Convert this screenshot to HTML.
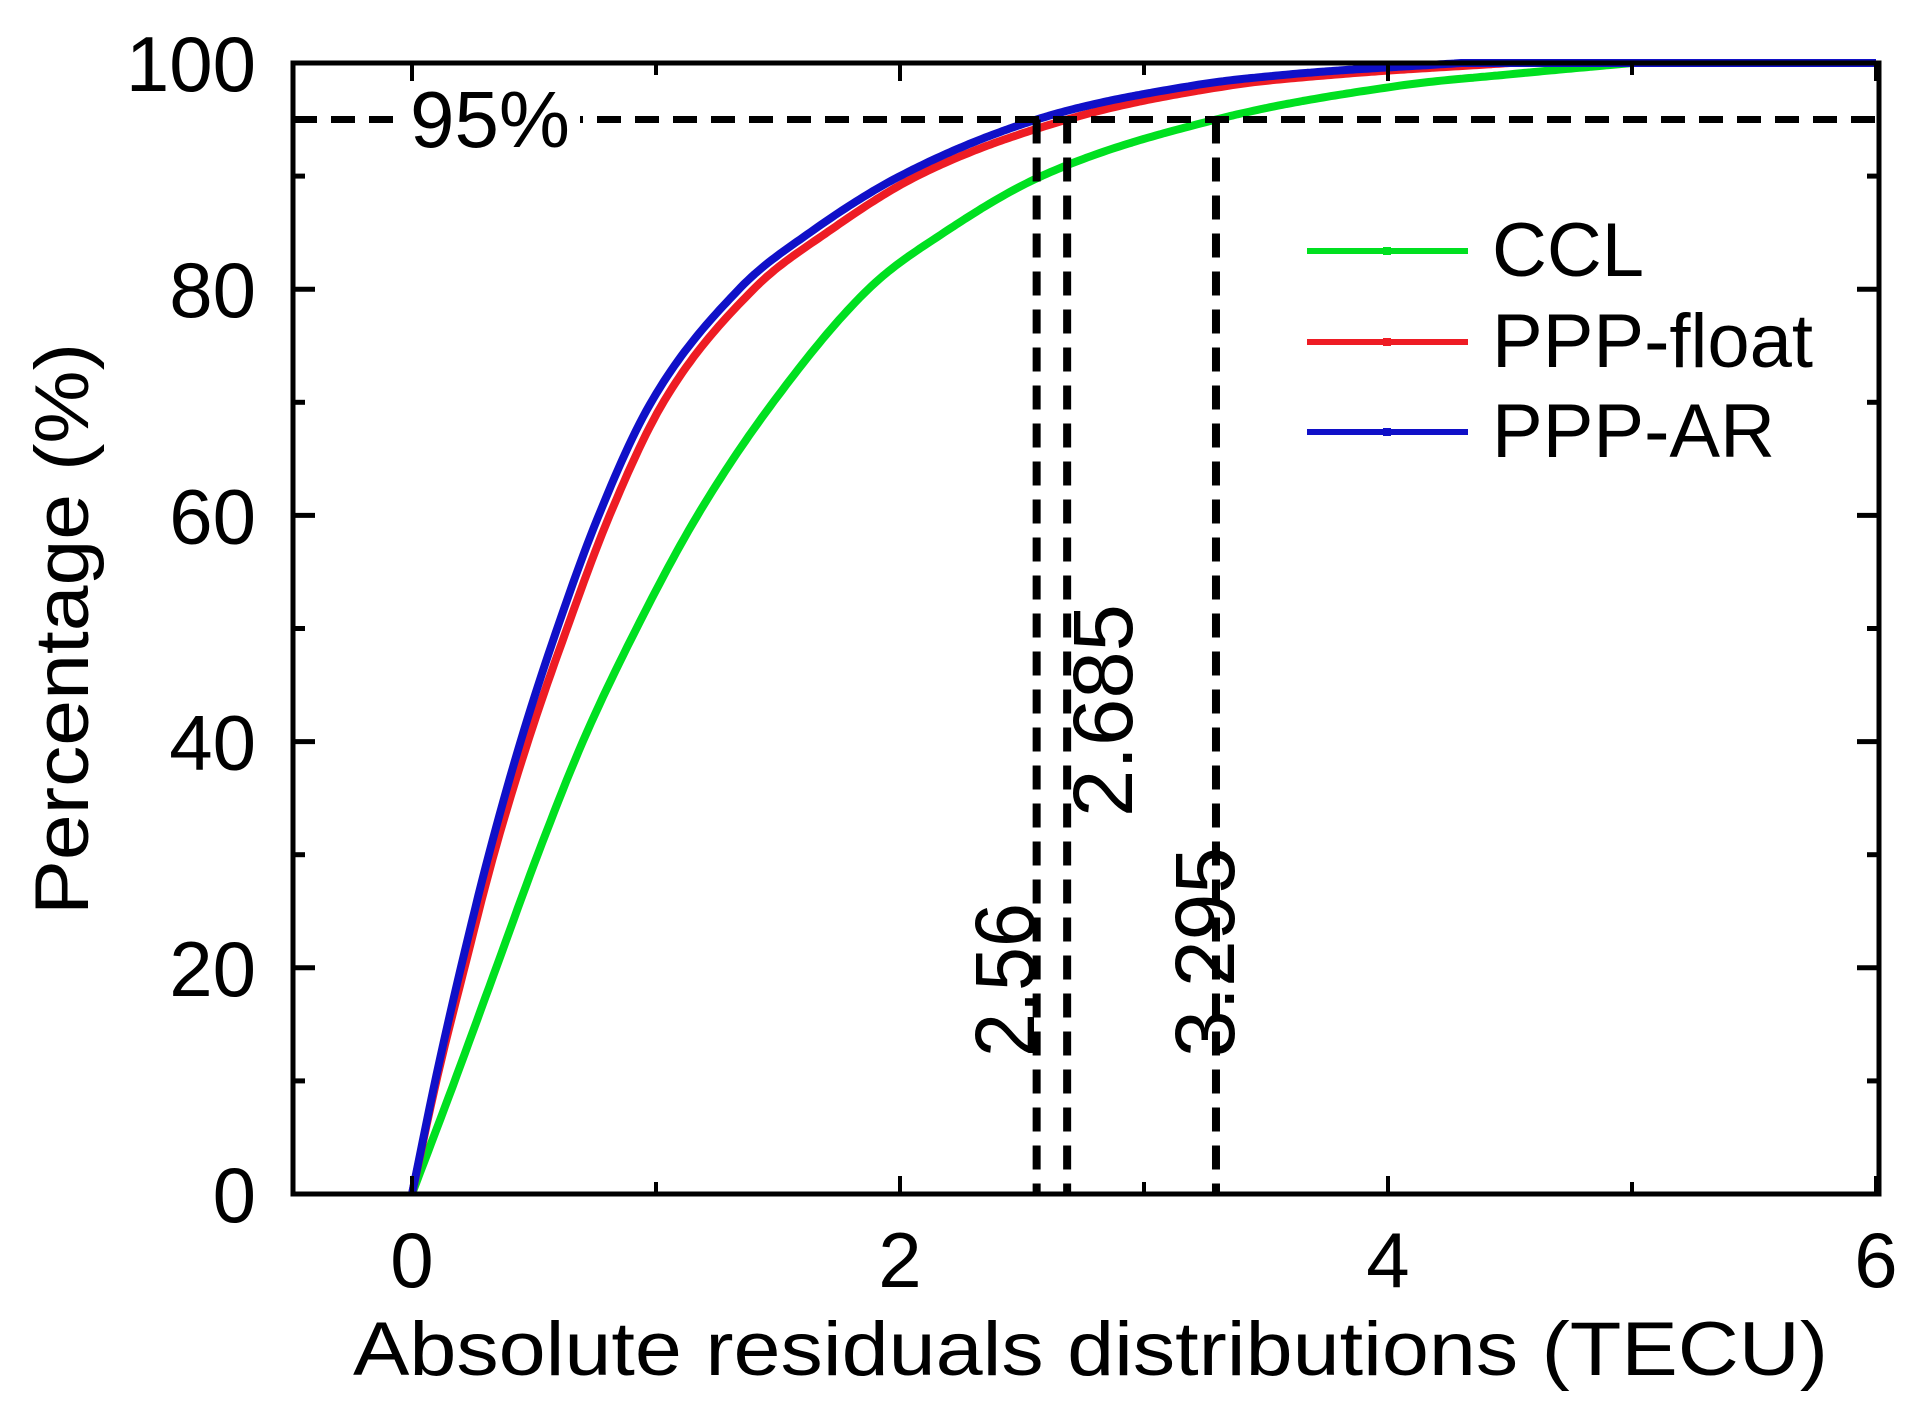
<!DOCTYPE html>
<html><head><meta charset="utf-8"><style>
html,body{margin:0;padding:0;background:#fff;}
svg{display:block;font-family:"Liberation Sans",Arial,sans-serif;}
</style></head><body>
<svg id="chart" width="1920" height="1410" viewBox="0 0 1920 1410" xmlns="http://www.w3.org/2000/svg">
<rect width="1920" height="1410" fill="#fff"/>
<g id="marks"></g>
<g id="frame"></g>
</svg>
<script>
const percentiles = [0,10,20,30,40,50,60,70,80,85,90,95,98,99,100];
const cclX   = [0,0.175,0.345,0.515,0.70,0.92,1.17,1.48,1.87,2.18,2.58,3.295,4.05,4.5,5.0];
const floatX = [0,0.10,0.215,0.335,0.475,0.635,0.81,1.03,1.40,1.70,2.07,2.685,3.35,3.8,4.5];
const arX    = [0,0.095,0.20,0.315,0.445,0.595,0.765,0.98,1.34,1.63,2.0,2.56,3.2,3.6,4.3];
const seriesNames = ["CCL","PPP-float","PPP-AR"];
const xTicks = [0,2,4,6];
const yTicks = [0,20,40,60,80,100];
const thresholdPct = 95;
const thresholds = [2.56,2.685,3.295];
const thresholdLabels = ["2.56","2.685","3.295"];

const NS="http://www.w3.org/2000/svg";
const X0=412, XS=244, Y0=1194, YS=11.31;
const L=293, R=1879, T=63, B=1194;
function sx(v){return X0+XS*v;}
function sy(p){return Y0-YS*p;}
function mk(tag,attrs,parent){const e=document.createElementNS(NS,tag);for(const k in attrs)e.setAttribute(k,attrs[k]);parent.appendChild(e);return e;}
const marks=document.getElementById('marks'), frame=document.getElementById('frame');

function monotone(xs,ys){
  const n=xs.length, d=[], m=new Array(n);
  for(let i=0;i<n-1;i++) d.push((ys[i+1]-ys[i])/(xs[i+1]-xs[i]));
  m[0]=d[0]; m[n-1]=d[n-2];
  for(let i=1;i<n-1;i++){ m[i]=(d[i-1]*d[i]<=0)?0:(d[i-1]+d[i])/2; }
  for(let i=0;i<n-1;i++){
    if(d[i]===0){m[i]=0;m[i+1]=0;continue;}
    const a=m[i]/d[i], b=m[i+1]/d[i], s=a*a+b*b;
    if(s>9){const t=3/Math.sqrt(s);m[i]=t*a*d[i];m[i+1]=t*b*d[i];}
  }
  return function(x){
    let i=0; while(i<n-2 && x>xs[i+1]) i++;
    const h=xs[i+1]-xs[i], t=(x-xs[i])/h, t2=t*t, t3=t2*t;
    return (2*t3-3*t2+1)*ys[i]+(t3-2*t2+t)*h*m[i]+(-2*t3+3*t2)*ys[i+1]+(t3-t2)*h*m[i+1];
  };
}
const colors=["#00e020","#ee1c24","#1010c8"];
const allX=[cclX,floatX,arX];
allX.forEach((xs,si)=>{
  const f=monotone(xs,percentiles);
  const xmax=xs[xs.length-1];
  let d="";
  for(let k=0;k<=300;k++){
    const v=xmax*k/300;
    d+=(k?"L":"M")+sx(v).toFixed(1)+","+sy(Math.min(100,f(v))).toFixed(1);
  }
  d+="L"+sx(6).toFixed(1)+","+sy(100).toFixed(1);
  const p=mk('path',{d:d,fill:'none',stroke:colors[si],'stroke-width':8,'stroke-linejoin':'round'},marks);
  
  
});

const h=mk('line',{x1:L,x2:R,y1:sy(thresholdPct),y2:sy(thresholdPct),stroke:'#000','stroke-width':7,'stroke-dasharray':'24,14'},marks);


const bg=mk('rect',{x:404,y:88,width:176,height:62,fill:'#fff'},marks);


const lbl95=mk('text',{x:410,y:147,'font-size':80,textLength:160,lengthAdjust:'spacingAndGlyphs'},marks);


lbl95.textContent="95%";
const labelPos=[{bx:1034,y:1057,len:154},{bx:1132,y:817,len:213},{bx:1234,y:1057,len:210}];
thresholds.forEach((t,i)=>{
  const v=mk('line',{x1:sx(t),x2:sx(t),y1:sy(thresholdPct),y2:B,stroke:'#000','stroke-width':8,'stroke-dasharray':'24,14'},marks);
  
  
  const tx=mk('text',{x:0,y:0,'font-size':84,textLength:labelPos[i].len,lengthAdjust:'spacingAndGlyphs',transform:'translate('+labelPos[i].bx+','+labelPos[i].y+') rotate(-90)'},marks);
  
  
  tx.textContent=thresholdLabels[i];
});

const fr=mk('rect',{x:L,y:T,width:R-L,height:B-T,fill:'none',stroke:'#000','stroke-width':5},frame);


for(let p=0;p<=100;p+=10){
  const len=(p%20===0)?22:12;
  mk('line',{x1:L,x2:L+len,y1:sy(p),y2:sy(p),stroke:'#000','stroke-width':5},frame);
  mk('line',{x1:R,x2:R-len,y1:sy(p),y2:sy(p),stroke:'#000','stroke-width':5},frame);
}
yTicks.forEach(p=>{
  const t=mk('text',{x:256,y:sy(p)+28,'font-size':78,'text-anchor':'end'},frame);
  
  
  t.textContent=p;
});
for(let v=0;v<=6;v+=1){
  const len=(v%2===0)?18:12;
  mk('line',{x1:sx(v),x2:sx(v),y1:B,y2:B-len,stroke:'#000','stroke-width':4},frame);
  mk('line',{x1:sx(v),x2:sx(v),y1:T,y2:T+len,stroke:'#000','stroke-width':4},frame);
}
xTicks.forEach(v=>{
  const t=mk('text',{x:sx(v),y:1287,'font-size':78,'text-anchor':'middle'},frame);
  
  
  t.textContent=v;
});
const xt=mk('text',{x:353,y:1375,'font-size':76,textLength:1475,lengthAdjust:'spacingAndGlyphs'},frame);


xt.textContent="Absolute residuals distributions (TECU)";
const yt=mk('text',{x:0,y:0,'font-size':76,textLength:572,lengthAdjust:'spacingAndGlyphs',transform:'translate(88,915) rotate(-90)'},frame);


yt.textContent="Percentage (%)";
const legY=[251,342,432];
seriesNames.forEach((n,i)=>{
  const g=mk('g',{},frame);
  
  
  mk('line',{x1:1307,x2:1468,y1:legY[i],y2:legY[i],stroke:colors[i],'stroke-width':6},g);
  mk('rect',{x:1383,y:legY[i]-4,width:8,height:8,fill:colors[i]},g);
  const t=mk('text',{x:1492,y:legY[i]+25,'font-size':76},g);
  t.textContent=n;
});
</script>
</body></html>
